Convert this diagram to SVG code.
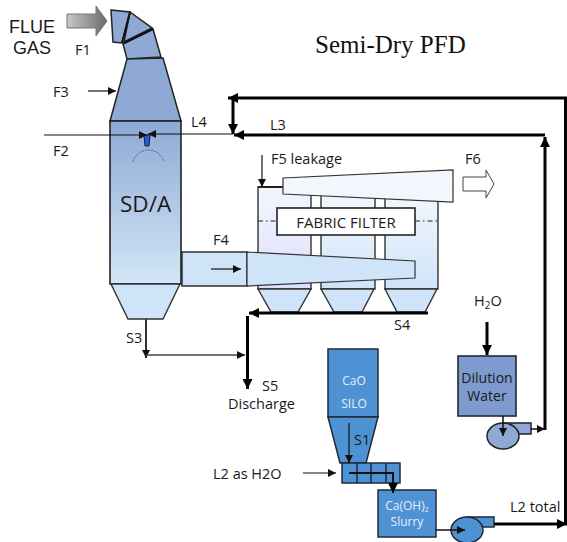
<svg xmlns="http://www.w3.org/2000/svg" width="567" height="542" viewBox="0 0 567 542">
<style>
.t{font-family:"Open Sans","Liberation Sans",sans-serif;font-size:14.500px;fill:#1a1a1a}
.f{font-family:"Liberation Sans",sans-serif;font-size:18px;fill:#1a1a1a}
.w{font-family:"Open Sans","Liberation Sans",sans-serif;font-size:12px;fill:#e4eefa}
.l{fill:#cfe4f8;stroke:#333;stroke-width:1.4}
.m{fill:#8ea9d3;stroke:#222;stroke-width:1.5}
.c{fill:#4f92d3;stroke:#1f2a38;stroke-width:1.5}
.a{fill:none;stroke:#111;stroke-width:1.2}
.h{fill:none;stroke:#000;stroke-width:3}
.k{fill:none;stroke:#111;stroke-width:1.5}
</style>
<defs>
<linearGradient id="tower" x1="0" y1="0" x2="0" y2="1"><stop offset="0" stop-color="#8ea9d3"/><stop offset="1" stop-color="#d3e6f8"/></linearGradient>
<linearGradient id="arrow" x1="0" y1="0" x2="1" y2="0"><stop offset="0" stop-color="#c8c8c8"/><stop offset="1" stop-color="#6a6a6a"/></linearGradient>
<linearGradient id="bag" x1="0" y1="0" x2="0" y2="1"><stop offset="0" stop-color="#f2f7fd"/><stop offset="1" stop-color="#cfe4f8"/></linearGradient>
<linearGradient id="bag1" x1="0" y1="0" x2="0" y2="1"><stop offset="0" stop-color="#f2f7fd"/><stop offset="1" stop-color="#dcdffa"/></linearGradient>
<marker id="ar" markerWidth="9" markerHeight="8" refX="8" refY="4" orient="auto" markerUnits="userSpaceOnUse"><path d="M0 0L8 4L0 8z" fill="#111"/></marker>
<marker id="arb" markerWidth="11" markerHeight="10" refX="10" refY="5" orient="auto" markerUnits="userSpaceOnUse"><path d="M0 0L10 5L0 10z" fill="#000"/></marker>
</defs>
<g id="title"><text x="315" y="53" style="font-family:'Liberation Serif',serif;font-size:25px;fill:#111">Semi-Dry PFD</text></g>

<g id="flue-gas">
<path d="M67 14H96V6L107 21L96 36V28H67z" fill="url(#arrow)" stroke="#777" stroke-width="1"/>
<text class="f" x="9" y="33">FLUE</text>
<text class="f" x="13" y="54">GAS</text>
</g>
<g id="inlet-duct">
<path class="m" d="M111 10L130 12L122 43L113 42z"/>
<path class="m" d="M130 12L152 28L124 42z"/>
<path class="m" d="M153 29L161 57L127 59L123 44z"/>
<path d="M130 12L122 43M124 43L153 29" fill="none" stroke="#111" stroke-width="2"/>
</g>
<g id="sda-tower">
<path class="m" d="M127 59L163 58L181 121H110z"/>
<rect x="110" y="121" width="71" height="163" fill="url(#tower)" stroke="#222" stroke-width="1.6"/>
<path class="l" d="M111 284H180L163 319H128z"/>
<path d="M133 162A16 16 0 0 1 164 162" fill="none" stroke="#445" stroke-width="1" stroke-dasharray="1.500 1.500"/>
<text class="t" x="120" y="212" style="font-size:22.500px">SD/A</text>
</g>
<g id="nozzle"><path d="M144 135H150L149 146H145z" fill="#1c5fd8" stroke="#123" stroke-width="1"/></g>

<g id="fabric-filter">
<path d="M258 187H311V289H258z" fill="url(#bag1)" stroke="#333" stroke-width="1.4"/>
<path d="M321 194H375V289H321z" fill="url(#bag)" stroke="#333" stroke-width="1.4"/>
<path d="M385 194H438V289H385z" fill="url(#bag)" stroke="#333" stroke-width="1.4"/>
<path class="l" d="M258 289H311L298 312H271z"/>
<path class="l" d="M321 289H374L362 312H334z"/>
<path class="l" d="M385 289H437L425 312H397z"/>
<path d="M258 187H283" stroke="#222" stroke-width="2"/>
<path d="M258 221H277M415 221H438" stroke="#222" stroke-width="1" stroke-dasharray="5 3 1.500 3"/>
<rect x="277" y="208" width="138" height="27" fill="#fff" stroke="#222" stroke-width="1.6"/>
<text class="t" x="346" y="228" text-anchor="middle" style="font-size:15px">FABRIC FILTER</text>
</g>
<g id="outlet-duct">
<path d="M283 178L453 170V202L283 194z" fill="#f2f7fd" stroke="#333" stroke-width="1.2"/>
<path d="M463 177H486V170L494 184L486 198V191H463z" fill="#fff" stroke="#444" stroke-width="1"/>
</g>
<g id="f4-duct">
<rect x="182" y="252" width="65" height="34" fill="#cfe4f8" stroke="#222" stroke-width="1.4"/>
<path d="M247 252L415 261V278L247 286z" fill="#cfe4f8" stroke="#333" stroke-width="1.2"/>
</g>

<g id="dilution-water">
<rect x="458" y="356" width="58" height="60" fill="#7e9ace" stroke="#1f2a38" stroke-width="1.6"/>
<text class="t" x="487" y="383" text-anchor="middle" style="font-size:14px">Dilution</text>
<text class="t" x="487" y="401" text-anchor="middle" style="font-size:14px">Water</text>
</g>
<g id="water-pump">
<rect x="503" y="423" width="28" height="11" class="m"/>
<ellipse cx="503" cy="436" rx="16" ry="13" class="m"/>
</g>
<g id="cao-silo">
<rect x="328" y="349" width="50" height="68" class="c"/>
<path class="c" d="M328 417H378L366 463H340z"/>
<text class="w" x="354" y="385" text-anchor="middle">CaO</text>
<text class="w" x="354" y="408" text-anchor="middle">SILO</text>
</g>
<g id="screw">
<rect x="342" y="463" width="58" height="20" class="c"/>
<path d="M357 463V483M371 463V483M386 463V483" stroke="#1f2a38" stroke-width="1.5"/>
</g>
<g id="slurry">
<rect x="378" y="490" width="58" height="47" class="c"/>
<text class="w" x="407" y="510" text-anchor="middle">Ca(OH)<tspan dy="2" style="font-size:7px">2</tspan></text>
<text class="w" x="407" y="526" text-anchor="middle">Slurry</text>
</g>
<g id="slurry-pump">
<rect x="467" y="517" width="27" height="10" class="c"/>
<ellipse cx="467" cy="530" rx="16" ry="13" class="c"/>
</g>

<g id="connectors">
<path class="a" d="M88 91H116" marker-end="url(#ar)"/>
<path class="a" d="M44 135H147" marker-end="url(#ar)"/>
<path class="a" d="M233 134H148" marker-end="url(#ar)"/>
<path class="a" d="M262 155V187" marker-end="url(#ar)"/>
<path class="a" d="M211 269H241" marker-end="url(#ar)"/>
<path class="h" d="M567 98H228" marker-end="url(#arb)"/>
<path class="h" d="M233 98V134" marker-end="url(#arb)"/>
<path class="h" d="M545 135H234" marker-end="url(#arb)"/>
<path class="h" d="M545 430V137" marker-end="url(#arb)"/>
<path class="h" d="M565.500 98V523"/>
<path class="h" d="M428 313H249" marker-end="url(#arb)"/>
<path class="h" d="M247.500 316V389" marker-end="url(#arb)"/>
<path d="M146 319V358" stroke="#333" stroke-width="2" fill="none" marker-end="url(#ar)"/>
<path d="M146 355H245" stroke="#444" stroke-width="1.3" fill="none" marker-end="url(#ar)"/>
<path class="h" d="M487 322V355" marker-end="url(#arb)"/>
<path class="k" d="M503 416V436" marker-end="url(#ar)"/>
<path class="k" d="M531 429H545" marker-end="url(#ar)"/>
<path class="a" d="M349 423V463" marker-end="url(#ar)"/>
<path class="a" d="M303 473H336" marker-end="url(#ar)"/>
<path d="M349 473H393V493" fill="none" stroke="#111" stroke-width="2" marker-end="url(#arb)"/>
<path class="k" d="M436 530H465" marker-end="url(#ar)"/>
<path class="h" d="M494 524H567" marker-end="url(#arb)"/>
</g>

<g id="labels">
<text class="t" x="75" y="55">F1</text>
<text class="t" x="53" y="97">F3</text>
<text class="t" x="53" y="156">F2</text>
<text class="t" x="191" y="127">L4</text>
<text class="t" x="270" y="130">L3</text>
<text class="t" x="271" y="164">F5 leakage</text>
<text class="t" x="465" y="164">F6</text>
<text class="t" x="213" y="245">F4</text>
<text class="t" x="394" y="330">S4</text>
<text class="t" x="126" y="343">S3</text>
<text class="t" x="262" y="391">S5</text>
<text class="t" x="228" y="409">Discharge</text>
<text class="t" x="474" y="306">H<tspan dy="3" style="font-size:10px">2</tspan><tspan dy="-3">O</tspan></text>
<text class="t" x="354" y="445">S1</text>
<text class="t" x="213" y="479">L2 as H2O</text>
<text class="t" x="510" y="512">L2 total</text>
</g>
</svg>
